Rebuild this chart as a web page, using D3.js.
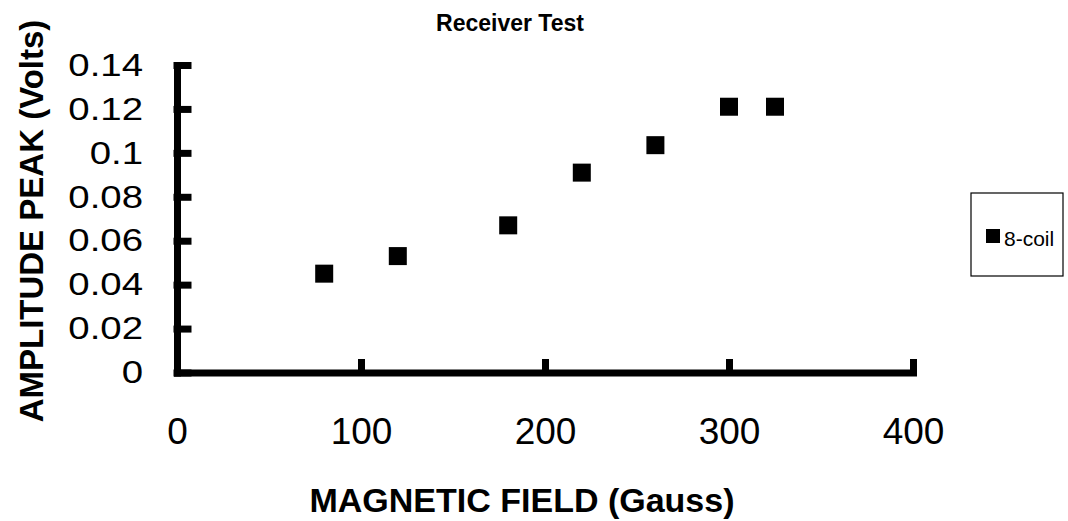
<!DOCTYPE html>
<html lang="en">
<head>
    <meta charset="UTF-8">
    <title>Receiver Test</title>
    <script src="https://d3js.org/d3.v7.min.js"></script>
    <style>
        body {
            margin: 0;
            background: white;
            font-family: "Liberation Sans", Arial, sans-serif;
        }
        .axis path, .axis line {
            stroke: black;
            stroke-width: 7;
            stroke-linecap: square;
        }
        .axis text {
            font-family: "Liberation Sans", Arial, sans-serif;
            fill: black;
        }
        .axis-title {
            font-weight: bold;
        }
    </style>
</head>
<body>
    <svg id="chart" width="1068" height="521"></svg>

    <script>
        // data
        const fieldGauss = [80, 120, 180, 220, 260, 300, 325];
        const amplitudeVolts = [0.045, 0.053, 0.067, 0.091, 0.1035, 0.121, 0.121];
        const xTicks = [0, 100, 200, 300, 400];
        const yTicks = [0, 0.02, 0.04, 0.06, 0.08, 0.1, 0.12, 0.14];
        const seriesName = "8-coil";

        const svg = d3.select("#chart");

        const x = d3.scaleLinear().domain([0, 400]).range([177, 913]);
        const y = d3.scaleLinear().domain([0, 0.14]).range([372.5, 65]);

        // title
        svg.append("text")
            .attr("x", 510)
            .attr("y", 31)
            .attr("text-anchor", "middle")
            .attr("font-size", 23)
            .attr("font-weight", "bold")
            .text("Receiver Test");

        // y axis: ticks point inward, labels outside
        const yAxis = svg.append("g")
            .attr("class", "axis")
            .attr("transform", `translate(${x(0)},0)`)
            .call(d3.axisLeft(y)
                .tickValues(yTicks)
                .tickFormat(d => String(d))
                .tickSizeInner(-11)
                .tickSizeOuter(0)
                .tickPadding(34));
        yAxis.selectAll("text")
            .attr("font-size", 32)
            .attr("x", -34 / 1.2)
            .attr("transform", "scale(1.2,1)");

        // x axis
        const xAxis = svg.append("g")
            .attr("class", "axis")
            .attr("transform", `translate(0,${y(0)})`)
            .call(d3.axisBottom(x)
                .tickValues(xTicks)
                .tickSizeInner(-10)
                .tickSizeOuter(0)
                .tickPadding(45));
        xAxis.selectAll("text").attr("font-size", 37);

        // axis titles
        svg.append("text")
            .attr("class", "axis-title")
            .attr("x", 522)
            .attr("y", 512)
            .attr("text-anchor", "middle")
            .attr("font-size", 34)
            .text("MAGNETIC FIELD (Gauss)");

        svg.append("text")
            .attr("class", "axis-title")
            .attr("transform", "translate(43,221) rotate(-90)")
            .attr("text-anchor", "middle")
            .attr("font-size", 33)
            .text("AMPLITUDE PEAK (Volts)");

        // points as squares
        const size = 18;
        svg.append("g")
            .selectAll("rect")
            .data(fieldGauss.map((f, i) => ({ f: f, v: amplitudeVolts[i] })))
            .enter()
            .append("rect")
            .attr("x", d => x(d.f) - size / 2)
            .attr("y", d => y(d.v) - size / 2)
            .attr("width", size)
            .attr("height", size)
            .attr("fill", "black");

        // legend
        const legend = svg.append("g").attr("transform", "translate(971,193)");
        legend.append("rect")
            .attr("width", 92)
            .attr("height", 83)
            .attr("fill", "white")
            .attr("stroke", "black")
            .attr("stroke-width", 1.2);
        legend.append("rect")
            .attr("x", 15)
            .attr("y", 36)
            .attr("width", 14)
            .attr("height", 14)
            .attr("fill", "black");
        legend.append("text")
            .attr("x", 33)
            .attr("y", 53)
            .attr("font-size", 21)
            .text(seriesName);
    </script>
</body>
</html>
